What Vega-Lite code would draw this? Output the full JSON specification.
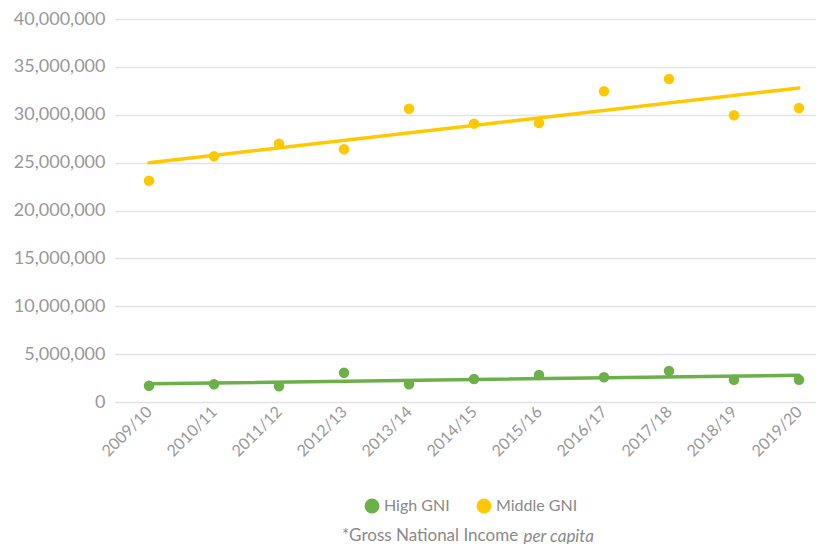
{
  "$schema": "https://vega.github.io/schema/vega-lite/v6.json",
  "autosize": "none",
  "width": 718,
  "height": 383,
  "padding": {"left": 115, "top": 19, "right": 0, "bottom": 142},
  "background": "white",
  "config": {
    "font": "Lato",
    "view": {"stroke": null},
    "axis": {"labelColor": "#999999", "labelFont": "Lato", "domain": false, "ticks": false}
  },
  "title": {
    "text": "*Gross National Income",
    "orient": "bottom",
    "anchor": "middle",
    "dx": -44,
    "offset": -16,
    "fontSize": 17,
    "fontWeight": "normal",
    "color": "#8a8a8a",
    "font": "Lato"
  },
  "data": {
    "values": [
      {"year": "2009/10", "start": 2009, "series": "High GNI", "value": 1700000},
      {"year": "2010/11", "start": 2010, "series": "High GNI", "value": 1850000},
      {"year": "2011/12", "start": 2011, "series": "High GNI", "value": 1640000},
      {"year": "2012/13", "start": 2012, "series": "High GNI", "value": 3060000},
      {"year": "2013/14", "start": 2013, "series": "High GNI", "value": 1850000},
      {"year": "2014/15", "start": 2014, "series": "High GNI", "value": 2400000},
      {"year": "2015/16", "start": 2015, "series": "High GNI", "value": 2820000},
      {"year": "2016/17", "start": 2016, "series": "High GNI", "value": 2580000},
      {"year": "2017/18", "start": 2017, "series": "High GNI", "value": 3240000},
      {"year": "2018/19", "start": 2018, "series": "High GNI", "value": 2330000},
      {"year": "2019/20", "start": 2019, "series": "High GNI", "value": 2330000},
      {"year": "2009/10", "start": 2009, "series": "Middle GNI", "value": 23100000},
      {"year": "2010/11", "start": 2010, "series": "Middle GNI", "value": 25660000},
      {"year": "2011/12", "start": 2011, "series": "Middle GNI", "value": 26980000},
      {"year": "2012/13", "start": 2012, "series": "Middle GNI", "value": 26390000},
      {"year": "2013/14", "start": 2013, "series": "Middle GNI", "value": 30630000},
      {"year": "2014/15", "start": 2014, "series": "Middle GNI", "value": 29070000},
      {"year": "2015/16", "start": 2015, "series": "Middle GNI", "value": 29140000},
      {"year": "2016/17", "start": 2016, "series": "Middle GNI", "value": 32450000},
      {"year": "2017/18", "start": 2017, "series": "Middle GNI", "value": 33730000},
      {"year": "2018/19", "start": 2018, "series": "Middle GNI", "value": 29940000},
      {"year": "2019/20", "start": 2019, "series": "Middle GNI", "value": 30700000}
    ]
  },
  "encoding": {
    "x": {
      "field": "start",
      "type": "quantitative",
      "scale": {"domain": [2008.477, 2019.523], "nice": false, "zero": false},
      "axis": {
        "values": [2009, 2010, 2011, 2012, 2013, 2014, 2015, 2016, 2017, 2018, 2019],
        "labelExpr": "datum.value + '/' + ((datum.value + 1) % 100)",
        "labelAngle": -45,
        "labelAlign": "right",
        "labelBaseline": "middle",
        "labelFontSize": 16,
        "labelPadding": 7,
        "labelBound": false,
        "labelOverlap": false,
        "grid": false,
        "title": "per capita",
        "titleFont": "Lato",
        "titleFontStyle": "italic",
        "titleFontWeight": "normal",
        "titleFontSize": 17,
        "titleColor": "#8a8a8a",
        "titleAlign": "left",
        "titleAnchor": null,
        "titleX": 408,
        "titleY": 139,
        "titleBaseline": "alphabetic"
      }
    },
    "y": {
      "field": "value",
      "type": "quantitative",
      "scale": {"domain": [0, 40000000], "nice": false},
      "axis": {
        "values": [0, 5000000, 10000000, 15000000, 20000000, 25000000, 30000000, 35000000, 40000000],
        "labelExpr": "format(datum.value, ',')",
        "labelFontSize": 18,
        "labelPadding": 10,
        "labelLimit": 200,
        "grid": true,
        "gridColor": "#e3e3e3",
        "gridWidth": 1.5,
        "title": null
      }
    },
    "color": {
      "field": "series",
      "type": "nominal",
      "scale": {"domain": ["High GNI", "Middle GNI"], "range": ["#6CB04A", "#FFC800"]},
      "legend": {
        "title": null,
        "orient": "none",
        "legendX": 249,
        "legendY": 479,
        "direction": "horizontal",
        "symbolType": "circle",
        "symbolSize": 220,
        "symbolStrokeWidth": 0,
        "labelFontSize": 16,
        "labelColor": "#8a8a8a",
        "labelFont": "Lato",
        "columnPadding": 26
      }
    }
  },
  "layer": [
    {
      "transform": [{"regression": "value", "on": "start", "groupby": ["series"]}],
      "mark": {"type": "line", "strokeWidth": 3.5, "strokeCap": "round"}
    },
    {
      "mark": {"type": "circle", "size": 110, "opacity": 1}
    }
  ]
}
